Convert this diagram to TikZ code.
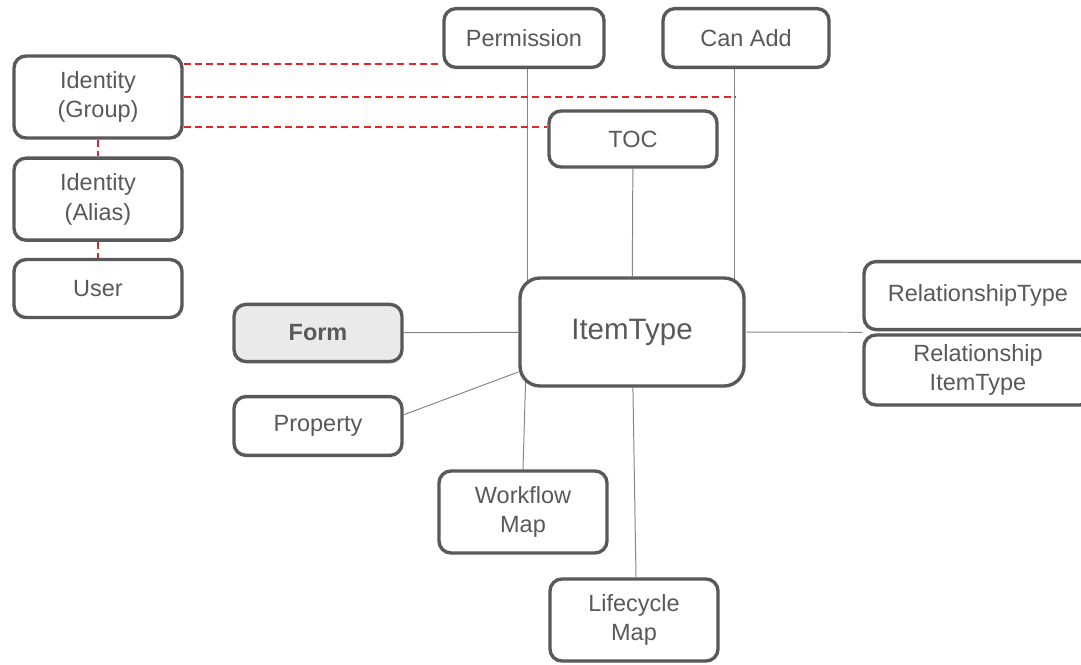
\documentclass[tikz,border=0pt]{standalone}
\usepackage{fontspec}
\setmainfont{Liberation Sans}
\usetikzlibrary{positioning, calc, backgrounds}

\definecolor{boxgray}{HTML}{595959}
\definecolor{linkgray}{HTML}{858585}
\definecolor{formfill}{HTML}{EAEAEA}
\definecolor{identred}{HTML}{E0262B}

\tikzset{
    entity/.style={draw=boxgray, line width=2.4pt, rounded corners=0.3cm, fill=white, text=boxgray,
        align=center, inner sep=0pt, font=\fontsize{16.7}{21}\selectfont},
    link/.style={draw=linkgray, line width=0.7pt},
    reddash/.style={draw=identred, line width=1.3pt, dash pattern=on 5pt off 3pt},
}

\begin{document}
\begin{tikzpicture}
    \useasboundingbox (0,0) rectangle (27.025,-16.6);

    % identity chain on the left
    \node (Group) at (2.45,-2.425) [entity, minimum width=4.2cm, minimum height=2.05cm] {Identity\\(Group)};
    \node (Alias) [below=0.42cm of Group, entity, minimum width=4.2cm, minimum height=2.05cm] {Identity\\(Alias)};
    \node (User) [below=0.4cm of Alias, entity, minimum width=4.2cm, minimum height=1.45cm] {User};

    % top row
    \node (Perm) at (13.1,-0.95) [entity, minimum width=4.0cm, minimum height=1.47cm] {Permission};
    \node (CanAdd) at (18.65,-0.95) [entity, minimum width=4.15cm, minimum height=1.47cm] {Can Add};
    \node (TOC) at (15.825,-3.475) [entity, minimum width=4.2cm, minimum height=1.4cm] {TOC};

    % centre
    \node (ItemType) at (15.8,-8.3) [entity, rounded corners=0.5cm, minimum width=5.6cm, minimum height=2.7cm,
        font=\fontsize{21}{25}\selectfont] {ItemType};

    \node (Form) at (7.95,-8.325) [entity, fill=formfill, minimum width=4.2cm, minimum height=1.43cm,
        font=\fontsize{16.7}{20}\selectfont\bfseries] {Form};
    \node (Property) at (7.95,-10.65) [entity, minimum width=4.2cm, minimum height=1.47cm] {Property};

    \node (Workflow) at (13.075,-12.8) [entity, minimum width=4.2cm, minimum height=2.05cm] {Workflow\\Map};
    \node (Lifecycle) at (15.85,-15.5) [entity, minimum width=4.2cm, minimum height=2.05cm] {Lifecycle\\Map};

    % relationship pair, cut by the right edge
    \node (RelType) at (24.45,-7.39) [entity, minimum width=5.7cm, minimum height=1.7cm] {RelationshipType};
    \node (RelItem) [below=0.05cm of RelType, entity, minimum width=5.7cm, minimum height=1.75cm] {Relationship\\ItemType};

    \coordinate (CanAddDrop) at ([xshift=-0.28cm]CanAdd.south);

    \begin{scope}[on background layer]
        \draw[link] ([xshift=0.08cm]Perm.south) -- ([xshift=0.08cm]Perm.south |- ItemType.center);
        \draw[link] (CanAddDrop) -- (CanAddDrop |- ItemType.center);
        \draw[link] (TOC) -- (ItemType);
        \draw[link] (Form) -- (ItemType);
        \draw[link] ([yshift=0.28cm]Property.east) -- ([yshift=-1.0cm]ItemType.west);
        \draw[link] (Workflow.north) -- ([xshift=0.1cm]Workflow.north |- ItemType.center);
        \draw[link] (ItemType) -- ([xshift=0.05cm]Lifecycle.north);
        \draw[link] (ItemType.east) -- ($(RelType.south west)!0.5!(RelItem.north west)$);

        \draw[reddash] ([yshift=0.13cm]Perm.south west -| Group.east) -- ([yshift=0.13cm, xshift=-0.08cm]Perm.south west);
        \draw[reddash] (Group.east) -- (Group.east -| CanAddDrop);
        \draw[reddash] ([yshift=0.3cm]TOC.west -| Group.east) -- ([yshift=0.3cm]TOC.west);
        \draw[reddash] (Group) -- (Alias);
        \draw[reddash] (Alias) -- (User);
    \end{scope}
\end{tikzpicture}
\end{document}
